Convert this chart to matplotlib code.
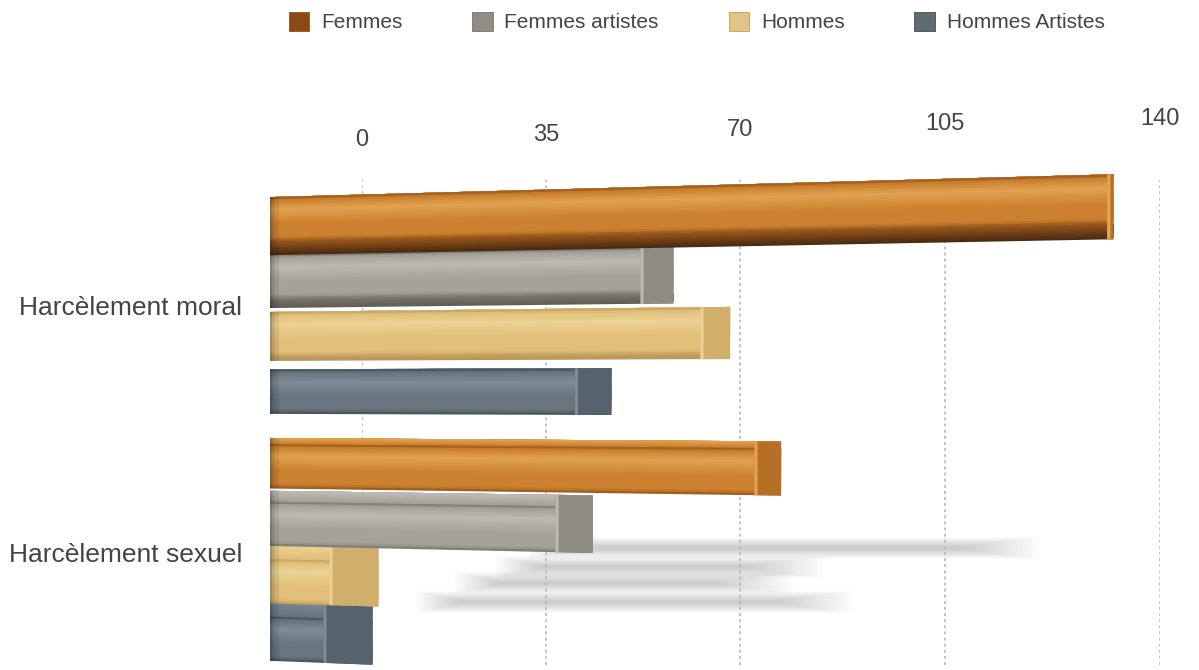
import numpy as np
import matplotlib
matplotlib.use("Agg")
import matplotlib.pyplot as plt
from matplotlib.patches import Patch
from matplotlib.transforms import Transform, blended_transform_factory
from matplotlib.colors import to_rgb

plt.rcParams['font.family'] = ['Liberation Sans', 'DejaVu Sans']

# données
categories = ["Harcèlement moral", "Harcèlement sexuel"]
series = ["Femmes", "Femmes artistes", "Hommes", "Hommes Artistes"]
femmes = [135, 85]
femmes_artistes = [68, 55]
hommes = [77, 19]
hommes_artistes = [58, 18]
ticks = [0, 35, 70, 105, 140]

values = [femmes, femmes_artistes, hommes, hommes_artistes]

# couleurs (sombre, moyen, clair, dessous, bout, légende)
styles = [
    dict(dark='#93531a', mid='#CB812F', light='#E2A250', under='#4A2B12', cap='#B56F26', key='#8B4A14'),
    dict(dark='#77746e', mid='#A5A29B', light='#BDBAB3', under='#5F5D58', cap='#8E8B85', key='#8F8D86'),
    dict(dark='#C29D5C', mid='#E2C07B', light='#EDD293', under='#B8975A', cap='#D0AE6C', key='#E4C486'),
    dict(dark='#414C56', mid='#68757F', light='#808C96', under='#3A444D', cap='#56626C', key='#5F6B73'),
]

W, H = 1199, 670
fig = plt.figure(figsize=(W / 100, H / 100), dpi=100)


def rect(l, t, r, b):
    return [l / W, 1 - b / H, (r - l) / W, (b - t) / H]


# échelle "perspective" : les graduations s'écartent vers la droite
C = 0.00084


def fwd(v):
    v = np.asarray(v, dtype=float)
    return v + C * v * v


def inv(u):
    u = np.asarray(u, dtype=float)
    return (np.sqrt(np.maximum(1 + 4 * C * u, 0)) - 1) / (2 * C)


class Tilt(Transform):
    """Agrandit verticalement les barres vers la droite (effet de fuite)."""
    input_dims = 2
    output_dims = 2
    is_separable = False
    has_inverse = False

    def __init__(self, x0, y0, gain):
        super().__init__()
        self.x0, self.y0, self.gain = x0, y0, gain

    def transform_non_affine(self, values):
        xy = np.asarray(values, dtype=float)
        x, y = xy[:, 0], xy[:, 1]
        k = 1 + self.gain * (x - self.x0)
        return np.column_stack([x, self.y0 + (y - self.y0) * k])


def gradient(dark, mid, light, n):
    t = (np.arange(n) + 0.5) / n
    stops = [0, 0.1, 0.4, 0.72, 0.92, 1]
    rgb = np.array([to_rgb(c) for c in [dark, mid, mid, light, mid, dark]])
    return [tuple(np.interp(tt, stops, rgb[:, i]) for i in range(3)) for tt in t]


def blend(c1, c2, n):
    a, b = np.array(to_rgb(c1)), np.array(to_rgb(c2))
    return [tuple(a + (b - a) * s) for s in np.linspace(0, 1, n)]


def stacked(axis, lo, hi, v, cols, z, left=0):
    # bandes empilées de bas en haut : chacune recouvre la suivante, pas de joints visibles
    m = len(cols)
    bottoms = lo + np.arange(m) * (hi - lo) / m
    return axis.barh(bottoms, v, height=hi - bottoms, left=left, align='edge',
                     color=cols, linewidth=0, zorder=z).patches


# ---- ombres au sol ----
ax_sh = fig.add_axes([0, 0, 1, 1], zorder=0)
ax_sh.set_xlim((0 - 588) / 3.22, (W - 588) / 3.22)
ax_sh.set_ylim(H, 0)
ax_sh.axis('off')
shadow_y = [548, 567, 602, 583]
shadow_start = [-5, -15, -40, -28]
for vals, yc, x0 in zip(values, shadow_y, shadow_start):
    end = vals[0]
    nl = 50
    for j in range(nl):
        s = j / (nl - 1)
        ax_sh.barh(yc, end + (s - 0.75) * 24 - x0 + s * 14, left=x0 - s * 14,
                   height=18 * (0.15 + 1.1 * s), color='#888888',
                   alpha=0.009, linewidth=0)

# ---- grille du fond ----
ax_g = fig.add_axes(rect(362, 180, 1160, 665), zorder=1)
ax_g.set_xscale('function', functions=(fwd, inv))
ax_g.set_xlim(0, 140)
ax_g.set_ylim(0, 1)
ax_g.axis('off')
bt = blended_transform_factory(ax_g.transData, ax_g.transAxes)
for t in ticks:
    ax_g.axvline(t, color='#b4b4b4', lw=1.1, ls=(0, (2, 2)))
    ax_g.text(t, 1 + (40 + 0.15 * t) / 485, str(t), transform=bt,
              ha='center', va='center', fontsize=17, color='#444444')

# ---- barres ----
ax = fig.add_axes(rect(270, 0, 1148, H), zorder=2)
ax.set_xscale('function', functions=(fwd, inv))
ax.set_xlim(0, 140)
ax.set_ylim(-0.476, 2.237)
ax.patch.set_alpha(0)
for sp in ax.spines.values():
    sp.set_visible(False)
ax.set_xticks([])
ax.set_yticks([1, 0], categories, fontsize=19, color='#444444')
ax.tick_params(axis='y', length=0, pad=20)

tilt = Tilt(270, H - 390, 0.00014)
tr = ax.transData + tilt

cat_pos = [1, 0]
slot = 0.2326
offsets = [1.5 * slot, 0.5 * slot, -0.5 * slot, -1.5 * slot]
hf = 0.18
y_hor = 0.658
n = 20

for k, (vals, st) in enumerate(zip(values, styles)):
    for ci, v in enumerate(vals):
        c = cat_pos[ci] + offsets[k]
        z = 3 + c
        patches = []

        # face avant
        patches += stacked(ax, c - hf / 2, c + hf / 2, v,
                           gradient(st['dark'], st['mid'], st['light'], n), z)

        # dessous (barres hautes) ou dessus (barres basses)
        dep = 0.08 * abs(c - y_hor)
        if c > y_hor:
            y0 = c - hf / 2 - dep
            cols = blend(st['under'], st['dark'], 8)
        else:
            y0 = c + hf / 2
            cols = blend(st['mid'], st['light'], 8)
        patches += stacked(ax, y0, y0 + dep, v, cols, z - 0.001)

        ylo = min(y0, c - hf / 2)
        yhi = max(y0 + dep, c + hf / 2)

        # extrémité gauche un peu plus sombre
        for w, a in [(1.6, 0.08), (0.8, 0.10), (0.35, 0.12)]:
            patches += ax.barh((ylo + yhi) / 2, w, height=yhi - ylo, color='black',
                               alpha=a, linewidth=0, zorder=z + 0.005).patches

        # bout de la barre
        d = 0.065 * (140 - v) + 0.6
        patches += ax.barh((ylo + yhi) / 2, d, left=v - d, height=yhi - ylo,
                           color=st['cap'], linewidth=0, zorder=z + 0.01).patches
        patches += ax.barh((ylo + yhi) / 2, 0.5, left=v - d, height=yhi - ylo,
                           color=st['light'], linewidth=0, zorder=z + 0.02).patches

        for p in patches:
            p.set_transform(tr)
            p.set_clip_on(False)

handles = [Patch(facecolor=st['key'], edgecolor=st['dark'], linewidth=0.6) for st in styles]
fig.legend(handles, series, loc='center', bbox_to_anchor=(0.581, 0.967), ncol=4,
           frameon=False, fontsize=15, handlelength=1.0, handleheight=1.0,
           handletextpad=0.55, columnspacing=3.35, labelcolor='#444444')

fig.savefig('out.png', dpi=100)
